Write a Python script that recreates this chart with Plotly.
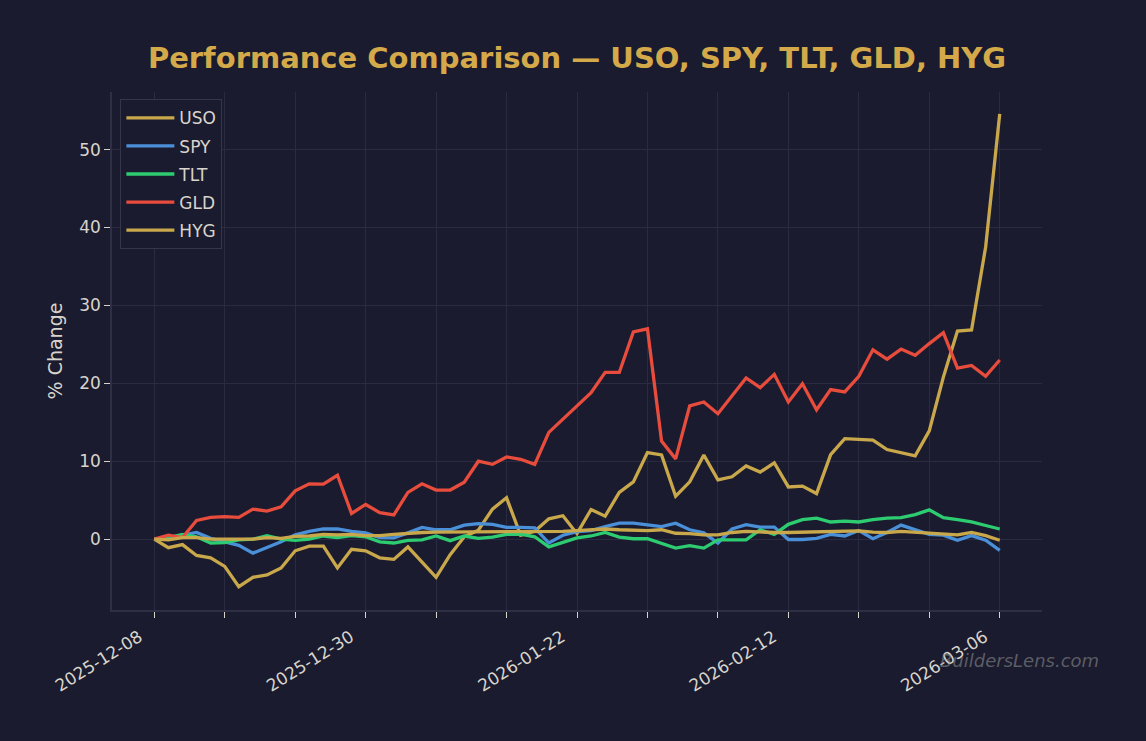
import plotly.graph_objects as go

dates = (
    ["2025-12-%02d" % d for d in [8, 9, 10, 11, 12, 15, 16, 17, 18, 19, 22, 23, 24, 26, 29, 30, 31]]
    + ["2026-01-%02d" % d for d in [2, 5, 6, 7, 8, 9, 12, 13, 14, 15, 16, 20, 21, 22, 23, 26, 27, 28, 29, 30]]
    + ["2026-02-%02d" % d for d in [2, 3, 4, 5, 6, 9, 10, 11, 12, 13, 17, 18, 19, 20, 23, 24, 25, 26, 27]]
    + ["2026-03-%02d" % d for d in [2, 3, 4, 5, 6]]
)

uso = [0, -1.1, -0.7, -2.1, -2.4, -3.5, -6.1, -4.9, -4.6, -3.7, -1.5, -0.9, -0.9, -3.7, -1.3, -1.5,
       -2.4, -2.6, -1.0, -2.9, -4.9, -2.0, 0.3, 1.15, 3.85, 5.3, 0.5, 1.0, 2.6, 3.0, 0.7, 3.8, 2.95,
       6.0, 7.35, 11.1, 10.8, 5.5, 7.35, 10.8, 7.6, 8.0, 9.4, 8.6, 9.8, 6.7, 6.8, 5.85, 10.85, 12.9,
       12.85, 12.7, 11.5, 11.1, 10.7, 13.9, 20.8, 26.7, 26.85, 37.5, 54.6]
spy = [0, 0.1, 0.5, 0.85, 0.1, -0.4, -0.8, -1.8, -1.1, -0.35, 0.55, 1.0, 1.3, 1.3, 1.0, 0.8, 0.2,
       0.15, 0.8, 1.5, 1.2, 1.2, 1.8, 2.0, 1.9, 1.5, 1.5, 1.45, -0.5, 0.5, 0.95, 1.1, 1.6, 2.05, 2.05,
       1.85, 1.6, 2.05, 1.2, 0.8, -0.5, 1.3, 1.85, 1.55, 1.55, -0.05, -0.05, 0.1, 0.6, 0.4, 1.1, 0.05,
       0.85, 1.8, 1.2, 0.6, 0.5, -0.15, 0.45, -0.15, -1.45]
tlt = [0, 0.2, 0.6, 0.3, -0.5, -0.45, -0.1, 0.0, 0.45, 0.0, -0.15, 0.0, 0.4, 0.2, 0.45, 0.3, -0.35,
       -0.5, -0.15, -0.1, 0.4, -0.2, 0.4, 0.1, 0.25, 0.6, 0.65, 0.3, -1.0, -0.4, 0.15, 0.4, 0.85, 0.25,
       0.05, 0.05, -0.5, -1.15, -0.85, -1.15, -0.1, -0.1, -0.1, 1.2, 0.6, 1.9, 2.5, 2.7, 2.2, 2.3, 2.2,
       2.5, 2.7, 2.75, 3.15, 3.75, 2.75, 2.5, 2.2, 1.75, 1.3]
gld = [0, 0.5, 0.2, 2.4, 2.8, 2.9, 2.8, 3.85, 3.6, 4.15, 6.2, 7.1, 7.05, 8.2, 3.3, 4.45, 3.4, 3.1,
       6.0, 7.1, 6.3, 6.3, 7.3, 10.0, 9.6, 10.55, 10.25, 9.6, 13.7, 15.4, 17.1, 18.8, 21.4, 21.4, 26.6,
       27.0, 12.6, 10.3, 17.1, 17.6, 16.1, 18.4, 20.7, 19.45, 21.15, 17.6, 19.95, 16.6, 19.2, 18.9,
       20.9, 24.3, 23.1, 24.4, 23.6, 25.1, 26.5, 21.95, 22.3, 20.9, 23.0]
hyg = [0, -0.1, 0.2, 0.2, 0.0, 0.05, 0.0, 0.0, 0.2, 0.1, 0.35, 0.4, 0.6, 0.55, 0.6, 0.45, 0.45, 0.6,
       0.75, 0.85, 0.9, 0.9, 0.95, 0.95, 0.95, 1.0, 1.0, 1.0, 1.0, 1.0, 1.1, 1.2, 1.3, 1.2, 1.1, 1.1,
       1.2, 0.75, 0.7, 0.55, 0.55, 0.85, 1.0, 0.9, 0.85, 0.85, 0.9, 0.9, 1.0, 1.05, 1.05, 0.9, 0.85,
       1.0, 0.9, 0.75, 0.7, 0.55, 0.85, 0.45, -0.15]

series_names = ["USO", "SPY", "TLT", "GLD", "HYG"]
series_values = [uso, spy, tlt, gld, hyg]
series_colors = ["#c9a84c", "#4a90d9", "#2ecc71", "#e74c3c", "#c9a84c"]

BG = "#1a1b2e"
GRID = "#2a2b40"
TXT = "#d8d4cc"

x = list(range(len(dates)))
tickvals = list(range(0, len(dates), 5))
ticktext = [dates[i] if i % 15 == 0 else "" for i in tickvals]

fig = go.Figure()
for name, vals, col in zip(series_names, series_values, series_colors):
    fig.add_trace(go.Scatter(x=x, y=vals, mode="lines", name=name, legendgroup=name,
                             line=dict(color=col, width=3.3)))

fig.update_layout(
    width=1146, height=741,
    paper_bgcolor=BG, plot_bgcolor=BG,
    margin=dict(l=112, r=104, t=92, b=131),
    title=dict(text="<b>Performance Comparison — USO, SPY, TLT, GLD, HYG</b>",
               x=0.5, xref="paper", xanchor="center", y=0.922, yref="container",
               yanchor="middle",
               font=dict(family="DejaVu Sans", size=29, color="#d4a94a")),
    font=dict(family="DejaVu Sans", color=TXT),
    legend=dict(x=0.009, y=0.986, xanchor="left", yanchor="top",
                bgcolor=BG, bordercolor="#35364a", borderwidth=1,
                font=dict(size=17, color=TXT), itemwidth=48,
                tracegroupgap=3),
    showlegend=True,
)
fig.update_xaxes(
    range=[-3, 63], tickmode="array", tickvals=tickvals, ticktext=ticktext,
    tickangle=-32, ticks="outside", ticklen=6, tickcolor=TXT, tickwidth=1,
    tickfont=dict(size=17, color=TXT), ticklabelshift=-15, ticklabelstandoff=3,
    showgrid=True, gridcolor=GRID, gridwidth=1, zeroline=False,
    showline=True, linecolor="#2e2f44", linewidth=1.5,
)
fig.update_yaxes(
    range=[-9.1, 57.4], tickvals=[0, 10, 20, 30, 40, 50],
    ticks="outside", ticklen=6, tickcolor=TXT, tickwidth=1,
    tickfont=dict(size=17, color=TXT),
    title=dict(text="% Change", font=dict(size=19, color=TXT), standoff=12),
    showgrid=True, gridcolor=GRID, gridwidth=1, zeroline=False,
    showline=True, linecolor="#2e2f44", linewidth=1.5,
)
fig.add_annotation(text="<i>BuildersLens.com</i>", xref="paper", yref="paper",
                   x=1.063, y=-0.098, xanchor="right", yanchor="middle", showarrow=False,
                   font=dict(family="DejaVu Sans", size=18, color="rgba(150,150,150,0.55)"))

fig.write_html("out.html")
